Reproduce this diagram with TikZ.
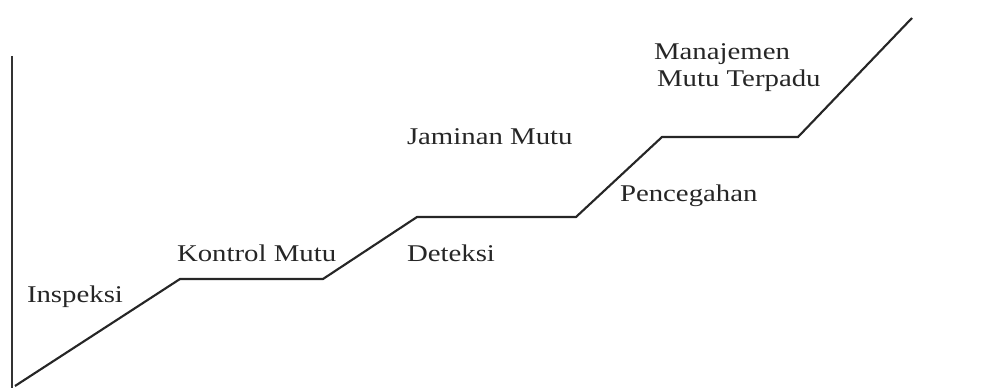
\documentclass[tikz,border=0pt]{standalone}
\usepackage{fontspec}
\setmainfont[FakeStretch=1.2]{Liberation Serif}
\begin{document}
\begin{tikzpicture}[x=0.75pt,y=-0.75pt,
  stair/.style={line width=1.6pt, draw=black!85, line join=miter},
  axisline/.style={line width=1.6pt, draw=black!80},
  lbl/.style={inner sep=0pt, outer sep=0pt, text=black!85, font=\fontsize{18}{20.25}\selectfont, anchor=base west}]
\useasboundingbox (0,0) rectangle (1000,388);
% axis
\coordinate (axtop) at (12,56);
\coordinate (axbot) at (12,388);
\draw[axisline] (axtop) -- (axbot);
% staircase
\coordinate (p0) at (15,386);
\coordinate (p1) at (180,279);
\coordinate (p2) at (323,279);
\coordinate (p3) at (417,217);
\coordinate (p4) at (576,217);
\coordinate (p5) at (662,137);
\coordinate (p6) at (798,137);
\coordinate (p7) at (912,18);
\draw[stair] (p0) -- (p1) -- (p2) -- (p3) -- (p4) -- (p5) -- (p6) -- (p7);
% labels
\node[lbl] (insp) at (27,303) {Inspeksi};
\node[lbl] (kont) at (177,262) {Kontrol Mutu};
\node[lbl] (det) at (407,262) {Deteksi};
\node[lbl] (jam) at (407,145) {Jaminan Mutu};
\node[lbl] (pen) at (620,202) {Pencegahan};
\node[lbl] (man1) at (654,60) {Manajemen};
\node[lbl] (man2) at (657,87) {Mutu Terpadu};
\end{tikzpicture}
\end{document}
